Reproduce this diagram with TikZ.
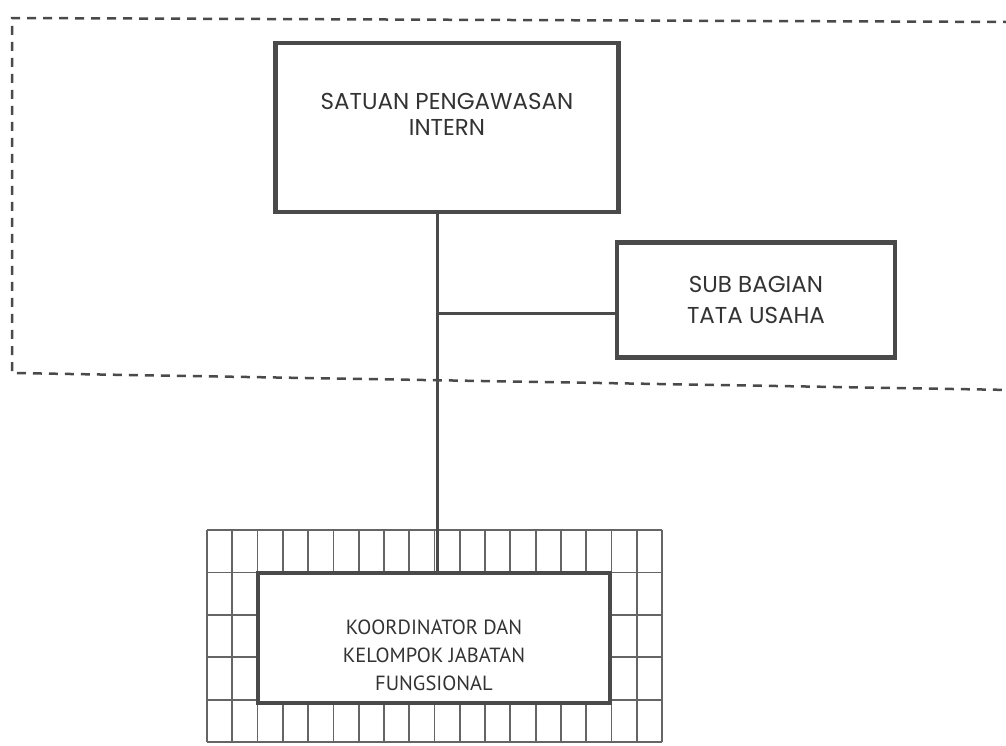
\documentclass[tikz,border=0pt]{standalone}
\usepackage{fontspec}
\setmainfont{Poppins}
\newfontfamily\ptsans{PT Sans}
\definecolor{ink}{HTML}{4A4A4A}
\definecolor{textgray}{HTML}{333333}
\begin{document}
\begin{tikzpicture}[x=1pt,y=-1pt,
  every node/.style={align=center,text=textgray},
  unitbox/.style={draw=ink,line width=4.5pt,fill=white,inner sep=0pt},
  conn/.style={draw=ink,line width=3pt},
  gridline/.style={draw=ink!85,line width=1.8pt},
  region/.style={draw=ink,line width=2.5pt,dash pattern=on 9pt off 7pt}]
\useasboundingbox (0,0) rectangle (1006,745);
% dashed area round the top units
\draw[region] (1012,22) -- (12,18) -- (12,373) -- (1012,390);
\node[unitbox,minimum width=343pt,minimum height=169pt,
  label={[yshift=13pt,font=\fontsize{23}{26}\selectfont]center:SATUAN PENGAWASAN\\INTERN}] (spi) at (447,127.5) {};
\node[unitbox,minimum width=278pt,minimum height=115pt,font=\fontsize{23}{31}\selectfont] (sub) at (756,300) {SUB BAGIAN\\TATA USAHA};
% grid round the functional group
\foreach \i in {0,...,18} \draw[gridline] (207+25.28*\i,530) -- (207+25.28*\i,742);
\foreach \j in {0,...,5} \draw[gridline] (207,530+42.4*\j) -- (662,530+42.4*\j);
\node[unitbox,minimum width=352pt,minimum height=130pt,
  label={[yshift=-17pt,font=\ptsans\fontsize{20.5}{28}\selectfont]center:KOORDINATOR DAN\\KELOMPOK JABATAN\\FUNGSIONAL}] (koor) at (434,638) {};
\coordinate (trunk) at (437,313);
\draw[conn] (trunk |- spi.south) -- (trunk |- koor.north);
\draw[conn] (trunk) -- (trunk -| sub.west);
\end{tikzpicture}
\end{document}
